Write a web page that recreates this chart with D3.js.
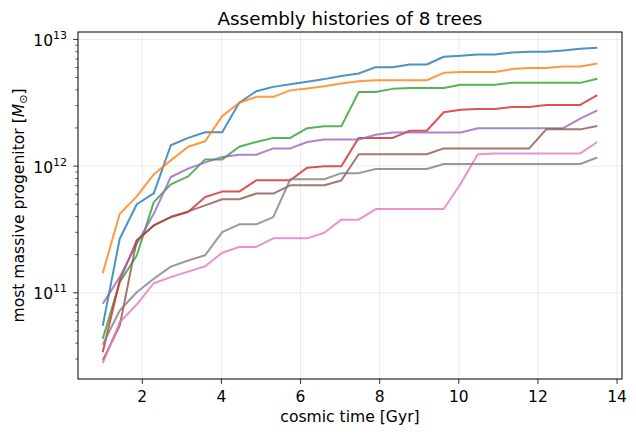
<!DOCTYPE html>
<html lang="en">
	<head>
		<meta charset="utf-8">
		<title>Assembly histories</title>
		<script type="text/javascript" src="https://d3js.org/d3.v7.min.js"></script>
		<style>
			body{margin:0;background:#fff;}
			text{font-family:"DejaVu Sans",sans-serif;fill:#000;}
		</style>
	</head>
	<body>
		<svg id="chart"></svg>
		<script>
			var times = [1.00,1.43,1.86,2.29,2.72,3.16,3.59,4.02,4.45,4.88,
						 5.31,5.74,6.17,6.60,7.03,7.47,7.90,8.33,8.76,9.19,
						 9.62,10.05,10.48,10.91,11.34,11.78,12.21,12.64,13.07,13.50];

			var tree0 = [5.5e10,2.67e11,5.0e11,6.1e11,1.46e12,1.67e12,1.85e12,1.85e12,3.16e12,3.9e12,
						 4.22e12,4.43e12,4.63e12,4.86e12,5.15e12,5.38e12,6.04e12,6.04e12,6.34e12,6.34e12,
						 7.3e12,7.43e12,7.6e12,7.6e12,7.89e12,7.98e12,7.98e12,8.18e12,8.43e12,8.59e12];
			var tree1 = [1.43e11,4.2e11,5.77e11,8.6e11,1.11e12,1.42e12,1.57e12,2.48e12,3.16e12,3.52e12,
						 3.52e12,3.96e12,4.1e12,4.27e12,4.49e12,4.68e12,4.76e12,4.76e12,4.76e12,4.76e12,
						 5.45e12,5.52e12,5.52e12,5.52e12,5.83e12,5.96e12,5.96e12,6.11e12,6.11e12,6.46e12];
			var tree2 = [4.33e10,1.21e11,1.97e11,5.2e11,7.18e11,8.3e11,1.13e12,1.13e12,1.42e12,1.55e12,
						 1.67e12,1.67e12,1.99e12,2.06e12,2.06e12,3.85e12,3.85e12,4.07e12,4.14e12,4.14e12,
						 4.14e12,4.38e12,4.38e12,4.38e12,4.54e12,4.54e12,4.54e12,4.54e12,4.54e12,4.89e12];
			var tree3 = [3.39e10,1.25e11,2.59e11,3.4e11,3.96e11,4.34e11,5.7e11,6.29e11,6.29e11,7.73e11,
						 7.73e11,7.73e11,9.72e11,9.96e11,9.96e11,1.67e12,1.67e12,1.67e12,1.9e12,1.9e12,
						 2.66e12,2.78e12,2.82e12,2.82e12,2.93e12,2.93e12,3.04e12,3.04e12,3.04e12,3.63e12];
			var tree4 = [8.19e10,1.33e11,2.44e11,4.2e11,8.2e11,9.55e11,1.07e12,1.18e12,1.23e12,1.23e12,
						 1.38e12,1.38e12,1.55e12,1.62e12,1.62e12,1.62e12,1.77e12,1.84e12,1.84e12,1.84e12,
						 1.84e12,1.84e12,1.99e12,1.99e12,1.99e12,1.99e12,1.99e12,1.99e12,2.37e12,2.75e12];
			var tree5 = [2.92e10,5.5e10,2.59e11,3.4e11,3.96e11,4.39e11,4.9e11,5.47e11,5.47e11,6.07e11,
						 6.07e11,7.05e11,7.05e11,7.05e11,7.7e11,1.24e12,1.24e12,1.24e12,1.24e12,1.24e12,
						 1.38e12,1.38e12,1.38e12,1.38e12,1.38e12,1.38e12,1.95e12,1.95e12,1.95e12,2.07e12];
			var tree6 = [2.78e10,5.86e10,8.08e10,1.19e11,1.33e11,1.47e11,1.62e11,2.07e11,2.3e11,2.3e11,
						 2.69e11,2.69e11,2.69e11,2.98e11,3.78e11,3.78e11,4.58e11,4.58e11,4.58e11,4.58e11,
						 4.58e11,7.28e11,1.24e12,1.26e12,1.26e12,1.26e12,1.26e12,1.26e12,1.26e12,1.55e12];
			var tree7 = [3.9e10,7.25e10,1.01e11,1.29e11,1.61e11,1.8e11,1.98e11,3.01e11,3.47e11,3.47e11,
						 3.96e11,7.87e11,7.87e11,7.87e11,8.8e11,8.8e11,9.48e11,9.48e11,9.48e11,9.48e11,
						 1.04e12,1.04e12,1.04e12,1.04e12,1.04e12,1.04e12,1.04e12,1.04e12,1.04e12,1.17e12];

			var trees = [tree0,tree1,tree2,tree3,tree4,tree5,tree6,tree7];
			var xTicks = [2,4,6,8,10,12,14];
			var yTicks = [1e11,1e12,1e13];

			var colors = ["#1f77b4","#ff7f0e","#2ca02c","#d62728","#9467bd","#8c564b","#e377c2","#7f7f7f"];

			var width = 636;
			var height = 434;
			var border = {left:78,right:14,top:32,bottom:55};

			var svg = d3.select("#chart").attr("width",width).attr("height",height);

			// matplotlib style 5% margins
			var tMin = d3.min(times), tMax = d3.max(times);
			var tPad = (tMax-tMin)*0.05;
			var xScale = d3.scaleLinear()
				.domain([tMin-tPad,tMax+tPad])
				.range([border.left,width-border.right]);

			var allM = d3.merge(trees);
			var lMin = Math.log10(d3.min(allM)), lMax = Math.log10(d3.max(allM));
			var lPad = (lMax-lMin)*0.05;
			var yScale = d3.scaleLog()
				.domain([Math.pow(10,lMin-lPad),Math.pow(10,lMax+lPad)])
				.range([height-border.bottom,border.top]);

			var x0 = border.left, x1 = width-border.right;
			var y0 = height-border.bottom, y1 = border.top;

			//grid
			var grid = svg.append("g").attr("stroke","#b0b0b0").attr("stroke-opacity",0.3).attr("stroke-width",0.8);
			grid.selectAll("line.gx").data(xTicks.filter(d=>xScale(d)<=x1)).enter().append("line")
				.attr("x1",d=>xScale(d)).attr("x2",d=>xScale(d)).attr("y1",y0).attr("y2",y1);
			grid.selectAll("line.gy").data(yTicks).enter().append("line")
				.attr("y1",d=>yScale(d)).attr("y2",d=>yScale(d)).attr("x1",x0).attr("x2",x1);

			//lines
			var line = d3.line()
				.x((d,i)=>xScale(times[i]))
				.y(d=>yScale(d));

			svg.append("g").selectAll("path").data(trees).enter().append("path")
				.attr("d",line)
				.attr("fill","none")
				.attr("stroke",(d,i)=>colors[i])
				.attr("stroke-opacity",0.8)
				.attr("stroke-width",2)
				.attr("stroke-linejoin","round");

			//frame
			svg.append("rect").attr("x",x0).attr("y",y1).attr("width",x1-x0).attr("height",y0-y1)
				.attr("fill","none").attr("stroke","#000").attr("stroke-width",1);

			//x axis
			var xAxis = svg.append("g");
			xAxis.selectAll("line").data(xTicks).enter().append("line")
				.attr("x1",d=>xScale(d)).attr("x2",d=>xScale(d)).attr("y1",y0).attr("y2",y0+4.9)
				.attr("stroke","#000").attr("stroke-width",0.8);
			xAxis.selectAll("text").data(xTicks).enter().append("text")
				.attr("x",d=>xScale(d)).attr("y",y0+22.5)
				.attr("text-anchor","middle").attr("font-size","15.5px")
				.text(d=>d);

			//y axis minor ticks
			var minor = [];
			var dom = yScale.domain();
			for (var e=10;e<=13;e++){
				for (var k=2;k<=9;k++){
					var v = k*Math.pow(10,e);
					if (v>=dom[0] && v<=dom[1]) minor.push(v);
				}
			}
			svg.append("g").selectAll("line").data(minor).enter().append("line")
				.attr("x1",x0-2.8).attr("x2",x0).attr("y1",d=>yScale(d)).attr("y2",d=>yScale(d))
				.attr("stroke","#000").attr("stroke-width",0.6);

			var yAxis = svg.append("g");
			yAxis.selectAll("line").data(yTicks).enter().append("line")
				.attr("x1",x0-4.9).attr("x2",x0).attr("y1",d=>yScale(d)).attr("y2",d=>yScale(d))
				.attr("stroke","#000").attr("stroke-width",0.8);
			var yLab = yAxis.selectAll("text").data(yTicks).enter().append("text")
				.attr("x",x0-11).attr("y",d=>yScale(d)+6.5)
				.attr("text-anchor","end").attr("font-size","15.5px");
			yLab.append("tspan").text("10");
			yLab.append("tspan").attr("dy",-7).attr("font-size","11px").text(d=>Math.round(Math.log10(d)));

			//labels
			svg.append("text").attr("x",(x0+x1)/2).attr("y",25)
				.attr("text-anchor","middle").attr("font-size","18.3px")
				.text("Assembly histories of 8 trees");

			svg.append("text").attr("x",(x0+x1)/2).attr("y",421.5)
				.attr("text-anchor","middle").attr("font-size","15.6px")
				.text("cosmic time [Gyr]");

			var yl = svg.append("text")
				.attr("transform","translate(24,"+((y0+y1)/2)+") rotate(-90)")
				.attr("text-anchor","middle").attr("font-size","15.6px");
			yl.append("tspan").text("most massive progenitor [");
			yl.append("tspan").attr("font-style","italic").text("M");
			yl.append("tspan").attr("dy",3).attr("font-size","11px").text("\u2299");
			yl.append("tspan").attr("dy",-3).text("]");
		</script>
	</body>
</html>
